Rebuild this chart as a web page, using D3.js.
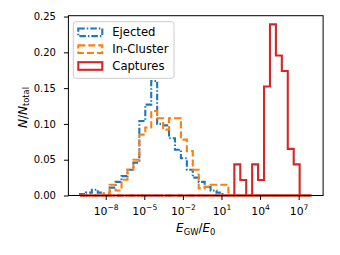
<html>
<script src="https://d3js.org/d3.v7.min.js"></script>
<style>
    body { margin: 0; background: #fff; }
    text { font-family: "DejaVu Sans", sans-serif; fill: #000; }
</style>
<body>
<div id="chart"></div>
<script>
    // histogram bins: 39 equal log bins from 1e-10 to 1e8
    var binLo = -10, binHi = 8, nBins = 39;

    // fraction of each population per bin (N/N_total)
    var ejected = [0.002, 0.004, 0.008, 0.004, 0, 0.011, 0.019, 0.027, 0.036, 0.046,
        0.104, 0.127, 0.160, 0.100, 0.098, 0.080, 0.064, 0.052, 0.036, 0.025,
        0.019, 0.012, 0.007, 0.004, 0, 0, 0, 0, 0, 0,
        0, 0, 0, 0, 0, 0, 0, 0, 0];
    var inCluster = [0, 0, 0, 0, 0.003, 0.015, 0.007, 0.022, 0.036, 0.050,
        0.085, 0.095, 0.118, 0.108, 0.092, 0.108, 0.108, 0.078, 0.062, 0.036,
        0.010, 0.012, 0.015, 0.015, 0.015, 0, 0, 0, 0, 0,
        0, 0, 0, 0, 0, 0, 0, 0, 0];
    var captures = [0, 0, 0, 0, 0, 0, 0, 0, 0, 0,
        0, 0, 0, 0, 0, 0, 0, 0, 0, 0,
        0, 0, 0, 0, 0, 0, 0.0435, 0.0217, 0, 0.0435,
        0.0217, 0.1522, 0.2391, 0.1957, 0.1739, 0.0652, 0.0435, 0, 0];

    var seriesNames = ["Ejected", "In-Cluster", "Captures"];
    var seriesColors = ["#1f77b4", "#ff7f0e", "#d62728"];
    var seriesDash = ["6.5,2,1.5,2", "7,3", null];

    var yTicks = [0, 0.05, 0.10, 0.15, 0.20, 0.25];
    var xTickExps = [-8, -5, -2, 1, 4, 7];

    var width = 340, height = 255;
    var plotL = 68.4, plotR = 323.1, plotT = 15.7, plotB = 195.5;

    var edges = d3.range(nBins + 1).map(function (i) {
        return Math.pow(10, binLo + i * (binHi - binLo) / nBins);
    });

    var svg = d3.select("#chart")
        .append("svg")
        .attr("width", width)
        .attr("height", height);

    var x = d3.scaleLog()
        .domain([Math.pow(10, -10.9), Math.pow(10, 8.9)])
        .range([plotL, plotR]);

    var y = d3.scaleLinear()
        .domain([0, 0.2512])
        .range([plotB, plotT]);

    // matplotlib style step outline: along the top, then back along the baseline
    function stepPoints(vals) {
        var pts = [[edges[0], 0]];
        for (var i = 0; i < vals.length; i++) {
            pts.push([edges[i], vals[i]]);
            pts.push([edges[i + 1], vals[i]]);
        }
        pts.push([edges[vals.length], 0]);
        for (var j = vals.length - 1; j >= 0; j--) {
            pts.push([edges[j], 0]);
        }
        return pts;
    }

    var line = d3.line()
        .x(function (d) { return x(d[0]); })
        .y(function (d) { return y(d[1]); });

    var allSeries = [ejected, inCluster, captures];

    allSeries.forEach(function (vals, k) {
        svg.append("path")
            .datum(stepPoints(vals))
            .attr("fill", "none")
            .attr("stroke", seriesColors[k])
            .attr("stroke-width", 2.1)
            .attr("stroke-dasharray", seriesDash[k])
            .attr("stroke-linejoin", "miter")
            .attr("d", line);
    });

    // frame
    svg.append("rect")
        .attr("x", plotL)
        .attr("y", plotT)
        .attr("width", plotR - plotL)
        .attr("height", plotB - plotT)
        .attr("fill", "none")
        .attr("stroke", "#000")
        .attr("stroke-width", 1);

    // y axis
    var yAxis = svg.append("g")
        .attr("transform", "translate(" + plotL + ",0)")
        .call(d3.axisLeft(y).tickValues(yTicks).tickFormat(d3.format(".2f"))
            .tickSize(4.5).tickSizeOuter(0).tickPadding(8));
    yAxis.select(".domain").remove();
    yAxis.selectAll("text").style("font-size", "10px").attr("fill", "#000");
    yAxis.selectAll("line").attr("stroke", "#000");

    // x axis
    var xAxis = svg.append("g")
        .attr("transform", "translate(0," + plotB + ")")
        .call(d3.axisBottom(x).tickValues(xTickExps.map(function (e) { return Math.pow(10, e); }))
            .tickFormat("").tickSize(4.5).tickSizeOuter(0));
    xAxis.select(".domain").remove();
    xAxis.selectAll("line").attr("stroke", "#000");
    xAxis.selectAll(".tick text")
        .attr("y", 19.7)
        .attr("dy", null)
        .attr("fill", "#000")
        .style("font-size", "10.8px")
        .each(function (d) {
            var t = d3.select(this);
            var e = Math.round(Math.log10(d));
            t.append("tspan").text("10");
            t.append("tspan")
                .attr("dy", -4.8)
                .style("font-size", "7.6px")
                .text(String(e).replace("-", "\u2212"));
        });

    // axis labels
    var xl = svg.append("text")
        .attr("x", (plotL + plotR) / 2)
        .attr("y", 232.3)
        .attr("text-anchor", "middle")
        .style("font-size", "12px");
    xl.append("tspan").style("font-style", "italic").text("E");
    xl.append("tspan").attr("dy", 2.2).style("font-size", "8.4px").text("GW");
    xl.append("tspan").attr("dy", -2.2).text("/");
    xl.append("tspan").style("font-style", "italic").text("E");
    xl.append("tspan").attr("dy", 2.2).style("font-size", "8.4px").text("0");

    var yl = svg.append("text")
        .attr("transform", "translate(27,107.5) rotate(-90)")
        .attr("text-anchor", "middle")
        .style("font-size", "12px");
    yl.append("tspan").style("font-style", "italic").text("N");
    yl.append("tspan").text("/");
    yl.append("tspan").style("font-style", "italic").text("N");
    yl.append("tspan").attr("dy", 2.2).style("font-size", "8.4px").text("total");

    // legend
    var legend = svg.append("g");
    legend.append("rect")
        .attr("x", 73.3)
        .attr("y", 21.7)
        .attr("width", 100.7)
        .attr("height", 56.6)
        .attr("rx", 2.5)
        .attr("fill", "#fff")
        .attr("fill-opacity", 0.8)
        .attr("stroke", "#cccccc")
        .attr("stroke-width", 1);

    seriesNames.forEach(function (name, k) {
        var cy = 32.3 + k * 16.85;
        legend.append("rect")
            .attr("x", 78.3)
            .attr("y", cy - 3.8)
            .attr("width", 24)
            .attr("height", 7.6)
            .attr("fill", "none")
            .attr("stroke", seriesColors[k])
            .attr("stroke-width", 2.1)
            .attr("stroke-dasharray", seriesDash[k]);
        legend.append("text")
            .attr("x", 112.3)
            .attr("y", cy)
            .attr("dy", "0.36em")
            .style("font-size", "11.6px")
            .text(name);
    });
</script>
</body>
</html>
